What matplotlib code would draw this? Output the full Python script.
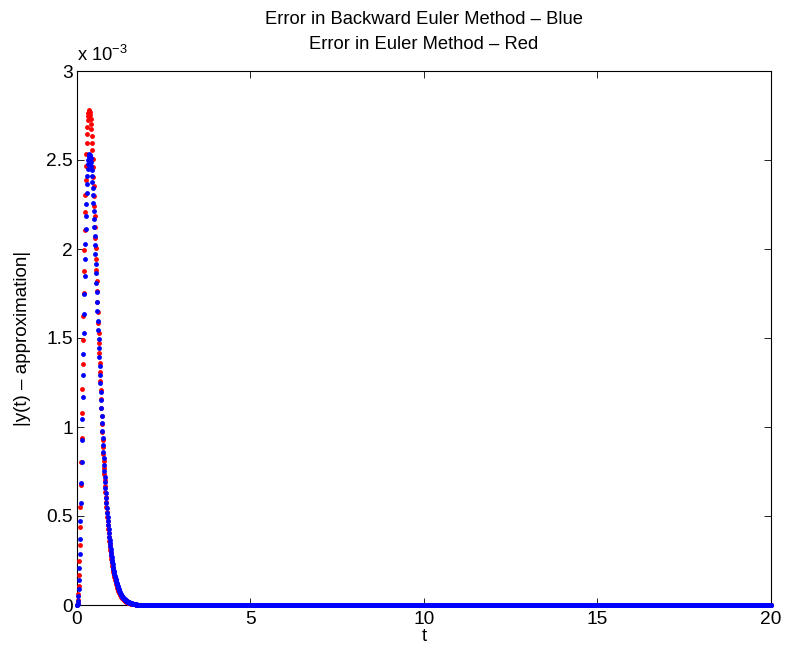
import numpy as np
import matplotlib
matplotlib.use("Agg")
import matplotlib.pyplot as plt
from matplotlib.ticker import FuncFormatter

plt.rcParams['font.family'] = ['Liberation Sans', 'DejaVu Sans']
plt.rcParams['mathtext.fontset'] = 'custom'
plt.rcParams['mathtext.rm'] = 'Liberation Sans'
plt.rcParams['mathtext.it'] = 'Liberation Sans'

# time grid: step 0.01 over [0, 20]
t_step = 0.01
t_end = 20.0

# errors in units of 1e-4 for t = 0.00, 0.01, ..., 1.70 (zero afterwards)
euler_err_e4 = [
    0, 0.012, 0.088, 0.272, 0.592, 1.061, 1.682, 2.452, 3.359, 4.390,
    5.527, 6.752, 8.046, 9.390, 10.764, 12.153, 13.537, 14.903, 16.238, 17.529,
    18.765, 19.939, 21.042, 22.069, 23.015, 23.877, 24.652, 25.338, 25.938, 26.451,
    26.878, 27.220, 27.482, 27.664, 27.768, 27.806, 27.773, 27.672, 27.519, 27.301,
    27.038, 26.729, 26.368, 25.978, 25.550, 25.075, 24.591, 24.066, 23.533, 22.983,
    22.416, 21.834, 21.243, 20.645, 20.041, 19.435, 18.831, 18.226, 17.627, 17.030,
    16.439, 15.856, 15.280, 14.716, 14.161, 13.616, 13.082, 12.561, 12.055, 11.560,
    11.078, 10.609, 10.154, 9.717, 9.288, 8.878, 8.478, 8.092, 7.719, 7.365,
    7.014, 6.686, 6.369, 6.061, 5.766, 5.487, 5.210, 4.957, 4.704, 4.471,
    4.244, 4.024, 3.813, 3.614, 3.429, 3.249, 3.076, 2.912, 2.758, 2.603,
    2.474, 2.339, 2.211, 2.089, 1.973, 1.863, 1.759, 1.660, 1.566, 1.477,
    1.393, 1.313, 1.238, 1.167, 1.099, 1.035, 0.975, 0.918, 0.864, 0.813,
    0.768, 0.7225, 0.6796, 0.6391, 0.6009, 0.5649, 0.5310, 0.4990, 0.4688, 0.4404,
    0.4146, 0.3894, 0.3656, 0.3432, 0.3221, 0.3023, 0.2837, 0.2662, 0.2497, 0.2342,
    0.2196, 0.2059, 0.1930, 0.1809, 0.1696, 0.1589, 0.1489, 0.1395, 0.1307, 0.1224,
    0.1146, 0.1073, 0.1004, 0.0940, 0.0880, 0.0823, 0.0770, 0.0720, 0.0674, 0.0630,
    0.0590, 0.0552, 0.0516, 0.0482, 0.0451, 0.0421, 0.0394, 0.0368, 0.0344, 0.0322,
    0.0301,
]

backward_err_e4 = [
    0, 0.010, 0.073, 0.227, 0.494, 0.889, 1.413, 2.066, 2.838, 3.718,
    4.695, 5.711, 6.871, 8.040, 9.243, 10.462, 11.686, 12.901, 14.094, 15.255,
    16.376, 17.447, 18.463, 19.417, 20.303, 21.122, 21.867, 22.536, 23.132, 23.653,
    24.100, 24.475, 24.776, 25.009, 25.173, 25.272, 25.311, 25.292, 25.213, 25.085,
    24.908, 24.686, 24.423, 24.121, 23.789, 23.418, 23.023, 22.602, 22.157, 21.697,
    21.209, 20.715, 20.209, 19.692, 19.170, 18.641, 18.109, 17.575, 17.042, 16.510,
    15.980, 15.456, 14.936, 14.421, 13.916, 13.417, 12.926, 12.447, 11.977, 11.516,
    11.067, 10.627, 10.203, 9.784, 9.380, 8.988, 8.606, 8.238, 7.883, 7.538,
    7.204, 6.883, 6.571, 6.273, 5.985, 5.706, 5.437, 5.182, 4.938, 4.698,
    4.474, 4.256, 4.047, 3.847, 3.656, 3.473, 3.298, 3.131, 2.972, 2.820,
    2.675, 2.536, 2.404, 2.278, 2.158, 2.044, 1.935, 1.832, 1.734, 1.640,
    1.553, 1.468, 1.388, 1.312, 1.240, 1.171, 1.106, 1.045, 0.986, 0.931,
    0.879, 0.8293, 0.7823, 0.7378, 0.6957, 0.6559, 0.6183, 0.5827, 0.5491, 0.5173,
    0.4875, 0.4591, 0.4323, 0.4070, 0.3832, 0.3607, 0.3394, 0.3194, 0.3005, 0.2827,
    0.2653, 0.2495, 0.2344, 0.2203, 0.2070, 0.1945, 0.1827, 0.1717, 0.1613, 0.1515,
    0.1423, 0.1335, 0.1253, 0.1176, 0.1103, 0.1035, 0.0972, 0.0912, 0.0856, 0.0803,
    0.0753, 0.0706, 0.0662, 0.0620, 0.0581, 0.0545, 0.0511, 0.0479, 0.0449, 0.0421,
    0.0394,
]

x_ticks = [0, 5, 10, 15, 20]
y_ticks = [0, 0.5e-3, 1e-3, 1.5e-3, 2e-3, 2.5e-3, 3e-3]

title_text = "Error in Backward Euler Method \u2013 Blue\nError in Euler Method \u2013 Red"
xlabel_text = "t"
ylabel_text = "|y(t) \u2013 approximation|"

n_pts = int(round(t_end / t_step)) + 1
t = np.arange(n_pts) * t_step


def full_series(vals_e4):
    arr = np.zeros(n_pts)
    arr[:len(vals_e4)] = np.array(vals_e4) * 1e-4
    return arr


euler = full_series(euler_err_e4)
backward = full_series(backward_err_e4)

fig = plt.figure(figsize=(7.86, 6.62), dpi=100)
ax = fig.add_axes([77 / 786, 1 - 605 / 662, (771 - 77) / 786, (605 - 71) / 662])

ax.plot(t, euler, linestyle='none', marker='o', ms=3.5, mew=0,
        color='#ff0000', clip_on=False, zorder=3)
ax.plot(t, backward, linestyle='none', marker='o', ms=3.5, mew=0,
        color='#0000ff', clip_on=False, zorder=4)

ax.set_xlim(0, 20)
ax.set_ylim(0, 3e-3)
ax.set_xticks(x_ticks)
ax.set_yticks(y_ticks)
ax.yaxis.set_major_formatter(FuncFormatter(lambda v, p: f"{v * 1e3:g}"))
ax.tick_params(direction='in', length=5, width=0.6, top=True, right=True,
               labelsize=13.8, colors='black')
ax.tick_params(axis='y', pad=3)
ax.tick_params(axis='x', pad=4)
for s in ax.spines.values():
    s.set_linewidth(0.8)

ax.set_xlabel(xlabel_text, fontsize=13.5, labelpad=0)
ax.set_ylabel(ylabel_text, fontsize=13.5, labelpad=11)
ax.set_title(title_text, fontsize=13.2, linespacing=1.62, pad=16)
ax.text(0.0, 1.012, r"x 10$^{-3}$", transform=ax.transAxes,
        fontsize=13.2, ha='left', va='bottom')

fig.savefig("out.png", dpi=100, facecolor='white')
